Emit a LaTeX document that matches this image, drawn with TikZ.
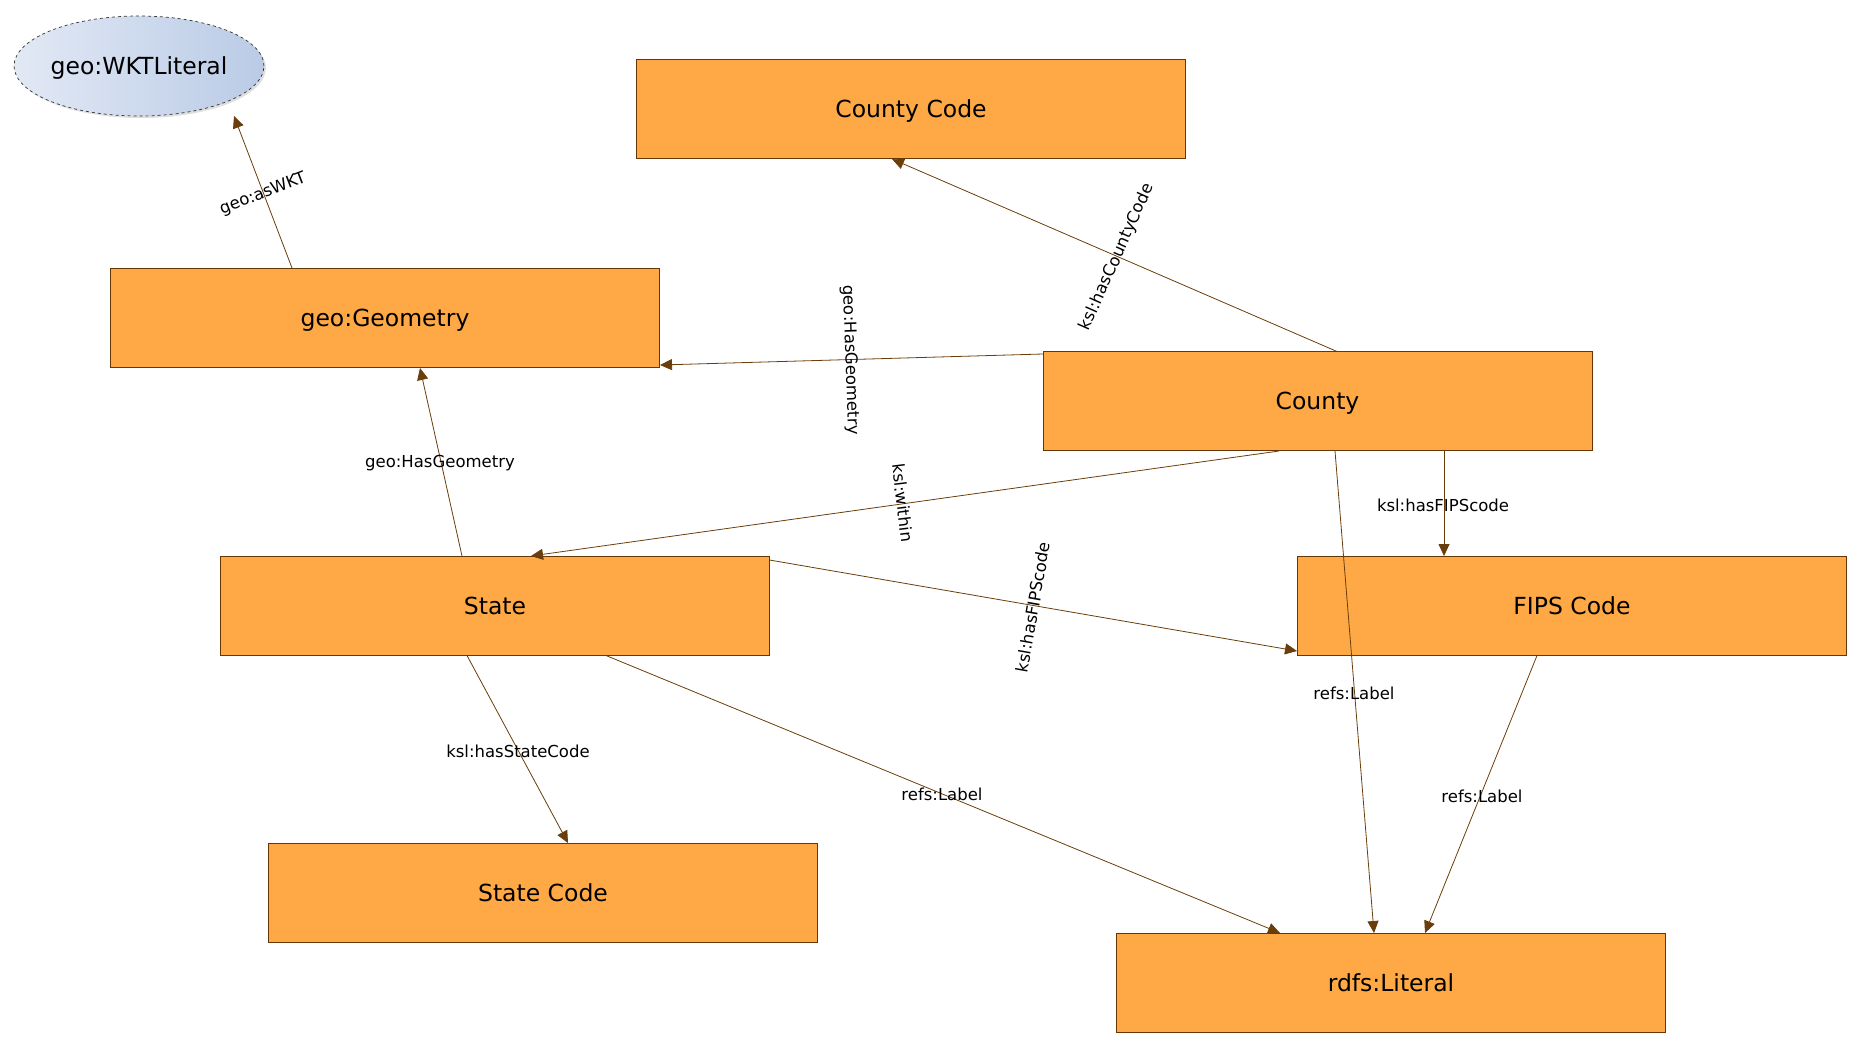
\documentclass[tikz,border=0pt]{standalone}
\usepackage{fontspec}
\setmainfont{DejaVu Sans}
\usetikzlibrary{calc,arrows.meta,shapes.geometric,shadows}
\definecolor{boxfill}{RGB}{254,169,69}
\definecolor{boxline}{RGB}{100,55,5}
\definecolor{edgecol}{RGB}{105,62,10}
\definecolor{ellL}{RGB}{226,233,245}
\definecolor{ellR}{RGB}{186,203,230}
\tikzset{
  cls/.style={draw=boxline, line width=0.9pt, fill=boxfill, minimum width=549pt, minimum height=99pt,
    inner sep=0pt, text height=20pt, text depth=3.2pt, font=\fontsize{23.5}{27}\selectfont},
  lit/.style={ellipse, draw=black!80, dashed, line width=0.7pt, left color=ellL, right color=ellR,
    minimum width=248pt, minimum height=100pt, inner sep=0pt, text height=20pt, text depth=3.2pt,
    font=\fontsize{23.5}{27}\selectfont,
    drop shadow={opacity=0.25, shadow xshift=2pt, shadow yshift=-2pt}},
  edge/.style={draw=edgecol, line width=0.8pt, -{Triangle[length=12pt,width=11pt]}},
  lbl/.style={font=\fontsize{16.5}{19}\selectfont, inner sep=0pt, text=black}
}
\begin{document}
\begin{tikzpicture}[x=1pt,y=-1pt]
\useasboundingbox (0,0) rectangle (1862,1049);
\node[lit] (wkt) at (139,66) {geo:WKTLiteral};
\node[cls] (cc) at (911,109) {County Code};
\node[cls] (geom) at (385,318) {geo:Geometry};
\node[cls] (county) at (1317.5,401) {County};
\node[cls] (state) at (495,606) {State};
\node[cls] (fips) at (1572,606) {FIPS Code};
\node[cls] (sc) at (543,893) {State Code};
\node[cls] (rdfs) at (1391,983) {rdfs:Literal};

\draw[edge] ($(geom)+(-93,-50)$) -- ($(wkt)+(95,50)$);
\draw[edge] ($(state)+(-33,-50)$) -- ($(geom)+(35,50)$);
\draw[edge] ($(county)+(-274.5,-47)$) -- ($(geom)+(275,47)$);
\draw[edge] ($(county)+(19.5,-49.5)$) -- ($(cc)+(-19,50)$);
\draw[edge] ($(county)+(-38.5,50)$) -- ($(state)+(36,-50)$);
\draw[edge] ($(county)+(126.5,50)$) -- ($(fips)+(-128,-50)$);
\draw[edge] ($(county)+(17.5,50)$) -- ($(rdfs)+(-17,-50)$);
\draw[edge] ($(fips)+(-35,49.5)$) -- ($(rdfs)+(34,-50)$);
\draw[edge] ($(state)+(274.5,-46)$) -- ($(fips)+(-275,45)$);
\draw[edge] ($(state)+(-28,49.5)$) -- ($(sc)+(25,-50)$);
\draw[edge] ($(state)+(111,49.5)$) -- ($(rdfs)+(-111,-50)$);

\node[lbl, rotate=21] (l1) at (263,194) {geo:asWKT};
\node[lbl, rotate=66] (l2) at (1117,257) {ksl:hasCountyCode};
\node[lbl, rotate=-88] (l3) at (850,360) {geo:HasGeometry};
\node[lbl, rotate=-83] (l4) at (903,503) {ksl:within};
\node[lbl, rotate=80] (l5) at (1033,607) {ksl:hasFIPScode};
\node[lbl] (l6) at (440,463) {geo:HasGeometry};
\node[lbl] (l7) at (1443,505) {ksl:hasFIPScode};
\node[lbl] (l8) at (1354,693) {refs:Label};
\node[lbl] (l9) at (1482,796) {refs:Label};
\node[lbl] (l10) at (942,794) {refs:Label};
\node[lbl] (l11) at (518,751) {ksl:hasStateCode};
\end{tikzpicture}
\end{document}
